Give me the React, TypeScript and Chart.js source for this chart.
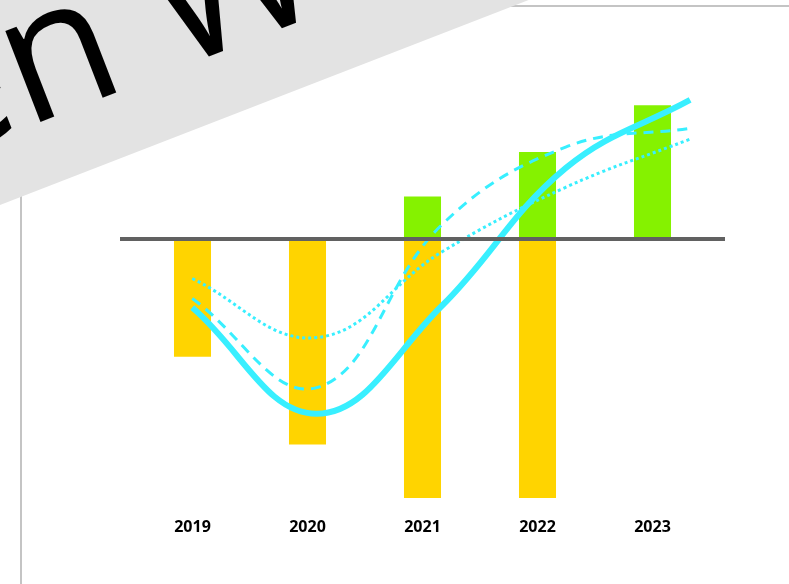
import React, { useEffect, useRef } from "react";
import { Chart, registerables } from "chart.js";

Chart.register(...registerables);

// ---- data ----
const years = ["2019", "2020", "2021", "2022", "2023"];
const gainValues: (number | null)[] = [null, null, 16.4, 33.5, 51.6];
const lossValues: (number | null)[] = [-45.5, -79.4, -112, -125, null];
const solidSeries = [-26.5, -67.5, -26.1, 27.3, 53.6];
const dashedSeries = [-23.0, -57.4, 5.2, 35.4, 42.7];
const dottedSeries = [-15.3, -38.1, -5.2, 19.9, 38.5];
const valueMin = -100;
const valueMax = 60;
const lineAxisMin = 2018.54;
const lineAxisMax = 2023.16;
const ribbonBefore = "Golde";
const ribbonAfter = "n Week";

// ---- styles ----
const CYAN = "#38EFFF";
const GREEN = "#85F200";
const YELLOW = "#FFD400";
const ZERO = "#616161";

export default function App() {
  const ref = useRef<HTMLCanvasElement>(null);

  useEffect(() => {
    const isZero = (ctx: any) => ctx && ctx.tick && ctx.tick.value === 0;
    const zeroColor = (ctx: any) => (isZero(ctx) ? ZERO : "rgba(0,0,0,0)");
    const zeroWidth = (ctx: any) => (isZero(ctx) ? 4 : 0);
    const toPts = (vals: number[]) => years.map((y, i) => ({ x: Number(y), y: vals[i] }));

    const lineBase = {
      type: "line",
      xAxisID: "xl",
      yAxisID: "yl",
      borderColor: CYAN,
      tension: 0.4,
      pointRadius: 0,
      fill: false,
    };
    const barBase = {
      type: "bar",
      xAxisID: "x",
      yAxisID: "y",
      grouped: false,
      categoryPercentage: 1,
      barPercentage: 0.322,
      order: 3,
    };

    const chart = new Chart(ref.current as HTMLCanvasElement, {
      type: "bar",
      data: {
        labels: years,
        datasets: [
          { ...lineBase, label: "solid", data: toPts(solidSeries), borderWidth: 6, order: 0 } as any,
          { ...lineBase, label: "dashed", data: toPts(dashedSeries), borderWidth: 3, borderDash: [10, 7], order: 1 } as any,
          { ...lineBase, label: "dotted", data: toPts(dottedSeries), borderWidth: 3, borderDash: [3, 3], order: 2 } as any,
          { ...barBase, label: "gain", data: gainValues, backgroundColor: GREEN } as any,
          { ...barBase, label: "loss", data: lossValues, backgroundColor: YELLOW } as any,
        ],
      },
      options: {
        responsive: false,
        animation: false,
        layout: { padding: { left: 120, right: 64, top: 83.4, bottom: 26.8 } },
        plugins: {
          legend: { display: false },
          tooltip: { enabled: false },
        },
        scales: {
          x: {
            type: "category",
            offset: true,
            stacked: true,
            grid: { display: false, drawTicks: false },
            border: { display: false },
            ticks: {
              padding: 20,
              color: "#000",
              maxRotation: 0,
              autoSkip: false,
              font: { family: "'Open Sans'", size: 16, weight: "bold" },
            },
          },
          xl: {
            type: "linear",
            display: false,
            offset: false,
            grid: { offset: false },
            min: lineAxisMin,
            max: lineAxisMax,
          },
          y: {
            type: "linear",
            position: "left",
            stacked: true,
            min: valueMin,
            max: valueMax,
            ticks: { display: false, stepSize: 20 },
            border: { display: false },
            grid: {
              z: 1,
              drawTicks: true,
              tickLength: 15,
              color: zeroColor,
              tickColor: zeroColor,
              lineWidth: zeroWidth,
            },
          },
          y2: {
            type: "linear",
            position: "right",
            min: valueMin,
            max: valueMax,
            ticks: { display: false, stepSize: 20 },
            border: { display: false },
            grid: {
              z: 1,
              drawOnChartArea: false,
              drawTicks: true,
              tickLength: 15,
              color: zeroColor,
              tickColor: zeroColor,
              lineWidth: zeroWidth,
            },
          },
          yl: { type: "linear", display: false, min: valueMin, max: valueMax },
        } as any,
      },
    } as any);
    return () => chart.destroy();
  }, []);

  return (
    <div
      style={{
        position: "fixed",
        left: 0,
        top: 0,
        width: 789,
        height: 584,
        overflow: "hidden",
        background: "#fff",
      }}
    >
      <div
        style={{
          position: "absolute",
          left: 20,
          top: 5,
          width: 900,
          height: 700,
          border: "2px solid #c4c4c4",
          boxSizing: "border-box",
        }}
      />
      <canvas
        ref={ref}
        width={789}
        height={584}
        style={{ position: "absolute", left: 0, top: 0, width: 789, height: 584 }}
      />
      <svg
        width={789}
        height={584}
        style={{ position: "absolute", left: 0, top: 0, pointerEvents: "none" }}
      >
        <g transform="translate(26 127.4) rotate(-21.2)">
          <rect x={-1200} y={-300} width={3000} height={363} fill="#e3e3e3" />
          <text x={0} y={0} textAnchor="end" fontFamily="'Open Sans'" fontSize={182} fill="#000">
            {ribbonBefore}
          </text>
          <text x={0} y={0} textAnchor="start" fontFamily="'Open Sans'" fontSize={182} fill="#000">
            {ribbonAfter}
          </text>
        </g>
      </svg>
    </div>
  );
}
